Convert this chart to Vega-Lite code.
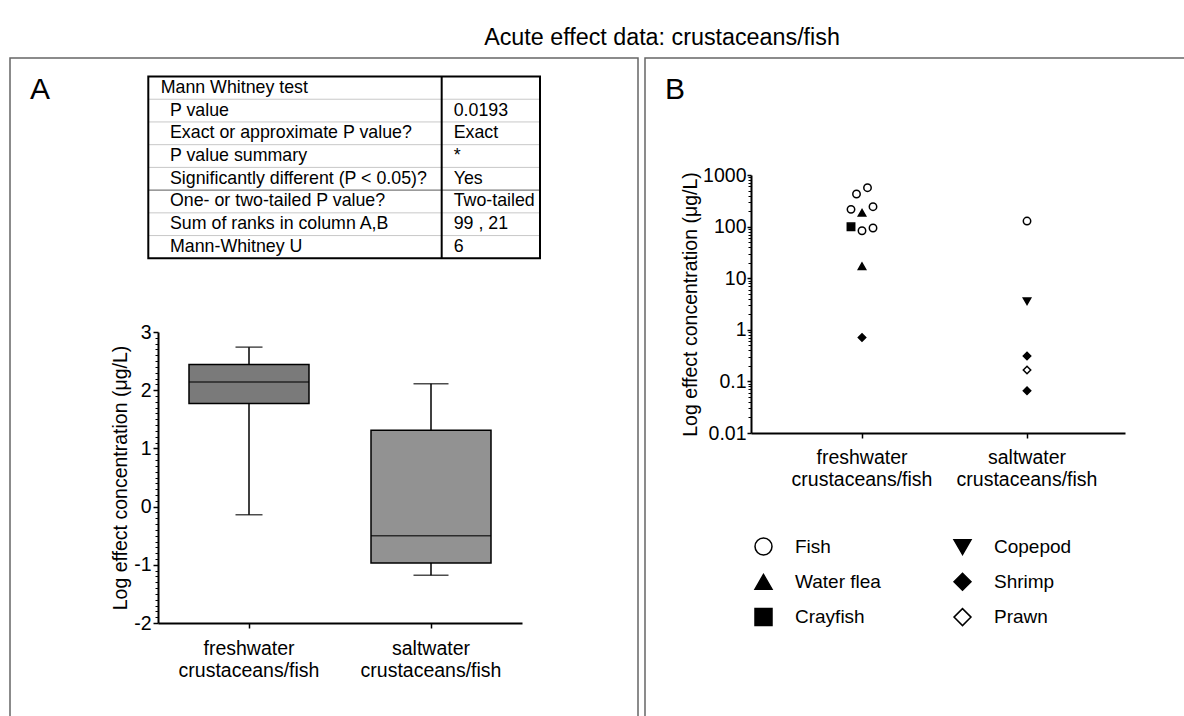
{
  "$schema": "https://vega.github.io/schema/vega-lite/v6.json",
  "width": 1184,
  "height": 716,
  "padding": 0,
  "autosize": {"type": "none"},
  "title": {"text": "Acute effect data: crustaceans/fish", "fontSize": 23.3, "fontWeight": "normal", "color": "black", "anchor": "middle", "frame": "group", "offset": -50, "dx": 70},
  "config": {
    "font": "Liberation Sans",
    "view": {"stroke": null},
    "axis": {"grid": false, "labelColor": "black", "titleColor": "black", "domainColor": "black", "tickColor": "black", "labelFontSize": 19.5, "titleFontSize": 19.5, "titleFontWeight": "normal", "labelFont": "Liberation Sans", "titleFont": "Liberation Sans"}
  },
  "datasets": {
    "panels": [{"panel": "A"}, {"panel": "B"}],
    "mannWhitney": [
      {"row": 0, "label": "Mann Whitney test", "value": ""},
      {"row": 1, "label": "P value", "value": "0.0193"},
      {"row": 2, "label": "Exact or approximate P value?", "value": "Exact"},
      {"row": 3, "label": "P value summary", "value": "*"},
      {"row": 4, "label": "Significantly different (P < 0.05)?", "value": "Yes"},
      {"row": 5, "label": "One- or two-tailed P value?", "value": "Two-tailed"},
      {"row": 6, "label": "Sum of  ranks in column A,B", "value": "99 , 21"},
      {"row": 7, "label": "Mann-Whitney U", "value": "6"}
    ],
    "boxSummary": [
      {"habitat": "freshwater", "min": -0.14, "q1": 1.77, "median": 2.14, "q3": 2.44, "max": 2.74},
      {"habitat": "saltwater", "min": -1.18, "q1": -0.97, "median": -0.5, "q3": 1.31, "max": 2.11}
    ],
    "effects": [
      {"habitat": "freshwater", "species": "Fish", "value": 567, "slot": 1},
      {"habitat": "freshwater", "species": "Fish", "value": 428, "slot": -1},
      {"habitat": "freshwater", "species": "Fish", "value": 216, "slot": -2},
      {"habitat": "freshwater", "species": "Water flea", "value": 185, "slot": 0},
      {"habitat": "freshwater", "species": "Fish", "value": 243, "slot": 2},
      {"habitat": "freshwater", "species": "Crayfish", "value": 99, "slot": -2},
      {"habitat": "freshwater", "species": "Fish", "value": 83, "slot": 0},
      {"habitat": "freshwater", "species": "Fish", "value": 94, "slot": 2},
      {"habitat": "freshwater", "species": "Water flea", "value": 17.1, "slot": 0},
      {"habitat": "freshwater", "species": "Shrimp", "value": 0.71, "slot": 0},
      {"habitat": "saltwater", "species": "Fish", "value": 128, "slot": 0},
      {"habitat": "saltwater", "species": "Copepod", "value": 3.57, "slot": 0},
      {"habitat": "saltwater", "species": "Shrimp", "value": 0.31, "slot": 0},
      {"habitat": "saltwater", "species": "Prawn", "value": 0.166, "slot": 0},
      {"habitat": "saltwater", "species": "Shrimp", "value": 0.066, "slot": 0}
    ]
  },
  "layer": [
    {
      "data": {"name": "panels"},
      "layer": [
        {
          "mark": {"type": "rect", "fill": "transparent", "stroke": "#666666", "strokeWidth": 1.5, "width": 628},
          "encoding": {
            "x": {"field": "panel", "type": "nominal", "axis": null, "scale": {"range": [10, 1273], "paddingInner": 0.011, "paddingOuter": 0}},
            "y": {"datum": 0, "type": "quantitative", "axis": null, "scale": {"domain": [0, 1], "range": [58, 740]}},
            "y2": {"datum": 1}
          }
        },
        {
          "mark": {"type": "text", "fontSize": 30, "align": "center", "baseline": "middle", "dx": 30, "dy": 32, "color": "black"},
          "encoding": {
            "x": {"field": "panel", "type": "nominal", "bandPosition": 0, "axis": null},
            "y": {"datum": 0, "type": "quantitative"},
            "text": {"field": "panel"}
          }
        }
      ]
    },
    {
      "data": {"name": "mannWhitney"},
      "layer": [
        {
          "transform": [{"filter": "datum.row > 0 && datum.row != 5"}],
          "mark": {"type": "rule", "stroke": "#c8c8c8", "strokeWidth": 1},
          "encoding": {
            "x": {"datum": 0, "type": "quantitative", "axis": null, "scale": {"domain": [0, 1], "range": [148.3, 540]}},
            "x2": {"datum": 1},
            "y": {"field": "row", "type": "quantitative", "axis": null, "scale": {"domain": [0, 8], "range": [76.5, 258.3]}}
          }
        },
        {
          "transform": [{"filter": "datum.row == 5"}],
          "mark": {"type": "rule", "stroke": "#7a7a7a", "strokeWidth": 1.3},
          "encoding": {
            "x": {"datum": 0, "type": "quantitative"},
            "x2": {"datum": 1},
            "y": {"field": "row", "type": "quantitative"}
          }
        },
        {
          "transform": [{"filter": "datum.row == 0"}],
          "mark": {"type": "rect", "fill": "transparent", "stroke": "black", "strokeWidth": 2},
          "encoding": {
            "x": {"datum": 0, "type": "quantitative"},
            "x2": {"datum": 1},
            "y": {"datum": 0, "type": "quantitative"},
            "y2": {"datum": 8}
          }
        },
        {
          "transform": [{"filter": "datum.row == 0"}],
          "mark": {"type": "rule", "stroke": "black", "strokeWidth": 2},
          "encoding": {
            "x": {"datum": 0.749, "type": "quantitative"},
            "y": {"datum": 0, "type": "quantitative"},
            "y2": {"datum": 8}
          }
        },
        {
          "transform": [{"filter": "datum.row == 0"}],
          "mark": {"type": "text", "fontSize": 17.8, "align": "left", "baseline": "middle", "dx": 12.4, "dy": 11, "color": "black"},
          "encoding": {
            "x": {"datum": 0, "type": "quantitative"},
            "y": {"field": "row", "type": "quantitative"},
            "text": {"field": "label"}
          }
        },
        {
          "transform": [{"filter": "datum.row > 0"}],
          "mark": {"type": "text", "fontSize": 17.8, "align": "left", "baseline": "middle", "dx": 21.7, "dy": 11.3, "color": "black"},
          "encoding": {
            "x": {"datum": 0, "type": "quantitative"},
            "y": {"field": "row", "type": "quantitative"},
            "text": {"field": "label"}
          }
        },
        {
          "mark": {"type": "text", "fontSize": 17.8, "align": "left", "baseline": "middle", "dx": 12, "dy": 11.3, "color": "black"},
          "encoding": {
            "x": {"datum": 0.749, "type": "quantitative"},
            "y": {"field": "row", "type": "quantitative"},
            "text": {"field": "value"}
          }
        }
      ]
    },
    {
      "data": {"name": "boxSummary"},
      "layer": [
        {
          "mark": {"type": "rule", "stroke": "black", "strokeWidth": 1.5},
          "encoding": {
            "x": {"field": "habitat", "type": "nominal", "scale": {"domain": ["freshwater", "saltwater"], "range": [158, 522], "paddingInner": 0, "paddingOuter": 0},
              "axis": {"orient": "bottom", "offset": -93, "title": null, "labelAngle": 0, "labelExpr": "[datum.label, 'crustaceans/fish']", "labelLineHeight": 22, "labelPadding": 11, "tickSize": 5, "tickWidth": 1.5, "domainWidth": 2}},
            "y": {"field": "min", "type": "quantitative", "scale": {"domain": [-2, 3], "range": [623, 332], "nice": false, "zero": false},
              "axis": {"orient": "left", "offset": -158, "values": [-2, -1, 0, 1, 2, 3], "labelExpr": "'' + datum.value", "title": "Log effect concentration (μg/L)", "titleX": -32, "titleBaseline": "alphabetic", "tickSize": 5, "tickWidth": 1.5, "domainWidth": 2, "labelPadding": 2}},
            "y2": {"field": "max"}
          }
        },
        {
          "mark": {"type": "bar", "stroke": "black", "strokeWidth": 1.5, "width": 120},
          "encoding": {
            "x": {"field": "habitat", "type": "nominal"},
            "y": {"field": "q1", "type": "quantitative"},
            "y2": {"field": "q3"},
            "fill": {"field": "habitat", "type": "nominal", "scale": {"range": ["#7a7a7a", "#929292"]}, "legend": null}
          }
        },
        {
          "mark": {"type": "tick", "color": "black", "thickness": 1.5, "size": 120},
          "encoding": {
            "x": {"field": "habitat", "type": "nominal"},
            "y": {"field": "median", "type": "quantitative"}
          }
        },
        {
          "mark": {"type": "tick", "color": "black", "thickness": 1.5},
          "encoding": {
            "x": {"field": "habitat", "type": "nominal"},
            "y": {"field": "min", "type": "quantitative"},
            "size": {"field": "habitat", "type": "nominal", "scale": {"range": [27, 35]}, "legend": null}
          }
        },
        {
          "mark": {"type": "tick", "color": "black", "thickness": 1.5},
          "encoding": {
            "x": {"field": "habitat", "type": "nominal"},
            "y": {"field": "max", "type": "quantitative"},
            "size": {"field": "habitat", "type": "nominal", "legend": null}
          }
        }
      ]
    },
    {
      "data": {"name": "boxSummary"},
      "mark": {"type": "point", "opacity": 0},
      "encoding": {
        "y": {"datum": 0, "type": "quantitative", "scale": {"domain": [-2, 3], "range": [623, 332], "nice": false, "zero": false},
          "axis": {"orient": "left", "offset": -158, "values": [-1.9, -1.8, -1.7, -1.6, -1.5, -1.4, -1.3, -1.2, -1.1, -0.9, -0.8, -0.7, -0.6, -0.5, -0.4, -0.3, -0.2, -0.1, 0.1, 0.2, 0.3, 0.4, 0.5, 0.6, 0.7, 0.8, 0.9, 1.1, 1.2, 1.3, 1.4, 1.5, 1.6, 1.7, 1.8, 1.9, 2.1, 2.2, 2.3, 2.4, 2.5, 2.6, 2.7, 2.8, 2.9], "labels": false, "domain": false, "tickSize": 3, "tickWidth": 1, "title": null}}
      }
    },
    {
      "data": {"name": "effects"},
      "mark": {"type": "point", "filled": true, "strokeWidth": 1.5, "size": 55, "opacity": 1, "fillOpacity": 1, "strokeOpacity": 1},
      "encoding": {
        "x": {"field": "habitat", "type": "nominal", "scale": {"domain": ["freshwater", "saltwater"], "range": [751, 1125], "paddingInner": 0, "paddingOuter": 0.1333, "align": 0.648},
          "axis": {"orient": "bottom", "offset": -283, "title": null, "labelAngle": 0, "labelExpr": "[datum.label, 'crustaceans/fish']", "labelLineHeight": 22, "labelPadding": 10, "tickSize": 5, "tickWidth": 1.5, "domainWidth": 2}},
        "xOffset": {"field": "slot", "type": "ordinal", "scale": {"type": "point", "domain": [-2, -1, 0, 1, 2], "range": [71.5, 93.5], "padding": 0}},
        "y": {"field": "value", "type": "quantitative", "scale": {"type": "log", "domain": [0.01, 1000], "range": [433, 175], "nice": false},
          "axis": {"orient": "left", "offset": -751, "values": [0.01, 0.1, 1, 10, 100, 1000], "format": "~g", "title": "Log effect concentration (μg/L)", "titleX": -55, "titleBaseline": "alphabetic", "tickSize": 4, "tickWidth": 1.5, "domainWidth": 2, "labelPadding": 1}},
        "shape": {"field": "species", "type": "nominal", "scale": {"domain": ["Fish", "Water flea", "Crayfish", "Copepod", "Shrimp", "Prawn"], "range": ["circle", "triangle-up", "square", "triangle-down", "diamond", "diamond"]},
          "legend": {"orient": "none", "legendX": 754, "legendY": 537, "columns": 2, "title": null, "symbolSize": 289, "labelFontSize": 19, "labelColor": "black", "labelFont": "Liberation Sans", "symbolStrokeWidth": 1.5, "rowPadding": 12.3, "columnPadding": 70, "labelOffset": 22, "padding": 0}},
        "fill": {"field": "species", "type": "nominal", "scale": {"domain": ["Fish", "Water flea", "Crayfish", "Copepod", "Shrimp", "Prawn"], "range": ["white", "black", "black", "black", "black", "white"]},
          "legend": {"orient": "none", "legendX": 754, "legendY": 537, "columns": 2, "title": null, "symbolSize": 289, "labelFontSize": 19, "labelColor": "black", "labelFont": "Liberation Sans", "symbolStrokeWidth": 1.5, "rowPadding": 12.3, "columnPadding": 70, "labelOffset": 22, "padding": 0}},
        "stroke": {"field": "species", "type": "nominal", "scale": {"domain": ["Fish", "Water flea", "Crayfish", "Copepod", "Shrimp", "Prawn"], "range": ["black", "black", "black", "black", "black", "black"]},
          "legend": {"orient": "none", "legendX": 754, "legendY": 537, "columns": 2, "title": null, "symbolSize": 289, "labelFontSize": 19, "labelColor": "black", "labelFont": "Liberation Sans", "symbolStrokeWidth": 1.5, "rowPadding": 12.3, "columnPadding": 70, "labelOffset": 22, "padding": 0}}
      }
    },
    {
      "data": {"name": "effects"},
      "mark": {"type": "point", "opacity": 0},
      "encoding": {
        "y": {"datum": 1, "type": "quantitative", "scale": {"type": "log", "domain": [0.01, 1000], "range": [433, 175], "nice": false},
          "axis": {"orient": "left", "offset": -751, "values": [0.02, 0.03, 0.04, 0.05, 0.06, 0.07, 0.08, 0.09, 0.2, 0.3, 0.4, 0.5, 0.6, 0.7, 0.8, 0.9, 2, 3, 4, 5, 6, 7, 8, 9, 20, 30, 40, 50, 60, 70, 80, 90, 200, 300, 400, 500, 600, 700, 800, 900], "labels": false, "domain": false, "tickSize": 3, "tickWidth": 1, "title": null}}
      }
    }
  ],
  "resolve": {
    "scale": {"x": "independent", "y": "independent", "fill": "independent", "shape": "independent", "size": "independent", "stroke": "independent"},
    "axis": {"x": "independent", "y": "independent"}
  }
}
